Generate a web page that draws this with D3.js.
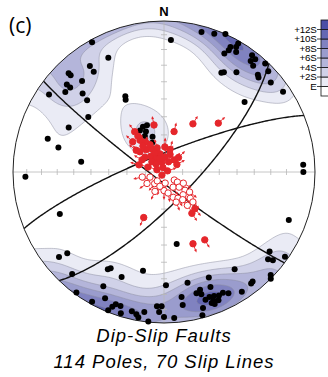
<!DOCTYPE html>
<html>
<head>
<meta charset="utf-8">
<script src="https://cdn.jsdelivr.net/npm/d3@7"></script>
<style>
  body { margin: 0; background: #fff; }
  svg { display: block; font-family: "Liberation Sans", Arial, sans-serif; }
</style>
</head>
<body>
<svg id="chart" width="328" height="377"></svg>
<script>
// Poles to faults (trend / plunge, degrees)
const poleTrend = [331,334,325,325,316,316,318,312,312,309,314,304,313,333,332,306,295,286,283,277,
  268,248,330,335,340,336,338,3,15,20,24,30,30,28,27,31,37,38,40,43,
  46,44,45,50,30,31,36,56,49,87,90,111,170,231,230,222,210,209,202,192,
  208,216,209,205,200,198,202,197,193,191,190,188,186,182,181,179,180,176,172,172,
  168,165,163,163,158,160,159,159,157,156,154,152,160,164,165,157,144,147,142,141,
  127,130,129,125,134,135,183,162,158,39,28,332,342,201];
const polePlunge = [2,17,15.5,20,10,12,20,14.5,17.5,17,26,9,31,43,45,38,31,21,29,44,
  9,26.5,64,63,63,66,73,13.5,4.5,3,0,2,5,9.5,13,8,3.5,7.5,9,2,
  4.5,11.5,12.5,8.5,25,24,19.5,5.5,30,8.5,8.5,12.5,50,11.5,17.5,10,26.5,28,26,33.5,
  15.5,1.5,2,8.5,7.5,7.5,1.5,2.5,6,4.5,2.5,7,0.5,8,12,26,4.5,3.5,17.5,12,
  26,18,19.5,16.5,19,13,9.5,7,8.5,11.5,12,10,8.5,7,2,25,21.5,6,7,7.5,
  13.5,11,8,2.5,2,0,12,12,12.5,4.5,7,68,70,5];

// Slip lines (trend / plunge), sense: 1 = filled symbol, 0 = open symbol
const slipTrend = [348,14,31,48,324,314,323,328,308,310,321,332,344,308,321,330,347.5,4,19,40,
  45,310,315,347.5,24,346,288,72,214,286,299,287,335,321,146,140,204,158,149,333,
  15,342,324,2,60,
  257,250,219,236,180,205,128,127,149,135,120,131,128,140,160,152,135,146,136,158,
  217,174,169,145,196];
const slipPlunge = [64,67.5,59.5,50,63,66.5,68.5,71,71,73,74.5,76,76.5,77,79,81.5,80,82,80,81.5,
  79,81.5,84,84.5,84,87.5,86,88,88,76,76.5,81,78.5,72,63,64,63,47.5,46.5,73.5,
  77.5,82.5,66,76.5,82,
  78,82,82,79,80,78.5,83,81,80.5,78.5,78,75,72.5,74,75.5,74,70,72,67.5,72.5,
  84,84,78.5,68,82];
const slipSense = [1,1,1,1,1,1,1,1,1,1,1,1,1,1,1,1,1,1,1,1,
  1,1,1,1,1,1,1,1,1,1,1,1,1,1,1,1,1,1,1,1,
  1,1,1,1,1,
  0,0,0,0,0,0,0,0,0,0,0,0,0,0,0,0,0,0,0,0,
  0,0,0,0,0];

// Mean fault planes (strike / dip, right-hand rule)
const planeStrike = [127, 248, 44];
const planeDip = [85, 80.5, 74.4];

// Contour levels (multiples of sigma above expected)
const contourSigma = [0, 2, 4, 6, 8, 10, 12];
const contourLabels = ["E", "+2S", "+4S", "+6S", "+8S", "+10S", "+12S"];
const bandColors = ["#eaebf5", "#d0d1e8", "#b4b5da", "#9a9ccd", "#8082c0", "#6568b3", "#4b4ea6"];

const cx = 164, cy = 172, R = 151;
const rad = Math.PI / 180;

const x = d3.scaleLinear().domain([-1, 1]).range([cx - R, cx + R]);
const y = d3.scaleLinear().domain([-1, 1]).range([cy + R, cy - R]);

// lower hemisphere equal-area (Schmidt) net
function eqArea(trend, plunge) {
  const r = Math.SQRT2 * Math.sin((90 - plunge) * rad / 2);
  return [r * Math.sin(trend * rad), r * Math.cos(trend * rad)];
}
function vec(trend, plunge) {
  return [Math.cos(plunge * rad) * Math.sin(trend * rad),
          Math.cos(plunge * rad) * Math.cos(trend * rad),
          Math.sin(plunge * rad)];
}

const svg = d3.select("#chart");
svg.append("defs").append("clipPath").attr("id", "net")
  .append("circle").attr("cx", cx).attr("cy", cy).attr("r", R);

// density of poles on the sphere (exponential Kamb), axial
const N = 160, k = 33;
const poleVecs = poleTrend.map((t, i) => vec(t, polePlunge[i]));
const values = new Float64Array(N * N);
for (let j = 0; j < N; j++) {
  for (let i = 0; i < N; i++) {
    let u = -1 + (i + 0.5) * 2 / N, v = 1 - (j + 0.5) * 2 / N;
    let r = Math.hypot(u, v);
    if (r > 1) { u /= r; v /= r; r = 1; }
    const th = 2 * Math.asin(r / Math.SQRT2);
    const s = Math.sin(th);
    const dir = r > 0 ? [u / r * s, v / r * s, Math.cos(th)] : [0, 0, 1];
    let sum = 0;
    for (const p of poleVecs) {
      const c = Math.abs(p[0] * dir[0] + p[1] * dir[1] + p[2] * dir[2]);
      sum += Math.exp(k * (c - 1));
    }
    values[j * N + i] = sum;
  }
}
const n = poleVecs.length;
const m1 = (1 - Math.exp(-k)) / k;
const m2 = (1 - Math.exp(-2 * k)) / (2 * k);
const E = n * m1, S = Math.sqrt(n * (m2 - m1 * m1));
const thresholds = contourSigma.map(m => E + m * S);

const contours = d3.contours().size([N, N]).thresholds(thresholds)(values);
const gridPath = d3.geoPath(d3.geoIdentity().scale(2 * R / N).translate([cx - R, cy - R]));

svg.append("g").attr("clip-path", "url(#net)")
  .selectAll("path").data(contours).join("path")
  .attr("d", gridPath)
  .attr("fill", (d, i) => bandColors[i])
  .attr("stroke", "#8d8ea0")
  .attr("stroke-width", 0.5);

// N-S and E-W axes with 10 degree ticks
const gAxes = svg.append("g").attr("stroke", "#b8b8b8").attr("stroke-width", 0.8);
gAxes.append("line").attr("x1", x(-1)).attr("x2", x(1)).attr("y1", y(0)).attr("y2", y(0));
gAxes.append("line").attr("x1", x(0)).attr("x2", x(0)).attr("y1", y(1)).attr("y2", y(-1));
const tickAngles = d3.range(10, 90, 10);
[0, 90, 180, 270].forEach(az => {
  tickAngles.forEach(a => {
    const [u, v] = eqArea(az, 90 - a);
    const horiz = az === 90 || az === 270;
    gAxes.append("line")
      .attr("x1", x(u) - (horiz ? 0 : 3)).attr("x2", x(u) + (horiz ? 0 : 3))
      .attr("y1", y(v) - (horiz ? 3 : 0)).attr("y2", y(v) + (horiz ? 3 : 0));
  });
});

// great circles
const gcLine = d3.line().x(d => x(d[0])).y(d => y(d[1]));
const gcData = planeStrike.map((st, i) => {
  const s = vec(st, 0), dv = vec(st + 90, planeDip[i]);
  return d3.range(0, 180.5, 1).map(rk => {
    const c = Math.cos(rk * rad), sn = Math.sin(rk * rad);
    const p = [c * s[0] + sn * dv[0], c * s[1] + sn * dv[1], c * s[2] + sn * dv[2]];
    const pl = Math.asin(Math.min(1, Math.max(-1, p[2]))) / rad;
    const tr = Math.atan2(p[0], p[1]) / rad;
    return eqArea(tr, pl);
  });
});
svg.append("g").selectAll("path").data(gcData).join("path")
  .attr("d", gcLine).attr("fill", "none").attr("stroke", "#111").attr("stroke-width", 1.4);

// primitive circle
svg.append("circle").attr("cx", cx).attr("cy", cy).attr("r", R)
  .attr("fill", "none").attr("stroke", "#222").attr("stroke-width", 1);

// poles
svg.append("g").selectAll("circle").data(poleTrend.map((t, i) => eqArea(t, polePlunge[i])))
  .join("circle")
  .attr("cx", d => x(d[0])).attr("cy", d => y(d[1])).attr("r", 3)
  .attr("fill", "#000");

// slip lines with arrows
const red = "#e5262b";
const slips = slipTrend.map((t, i) => ({ p: eqArea(t, slipPlunge[i]), t, sense: slipSense[i] }));
const gSlip = svg.append("g");
slips.forEach(d => {
  const px = x(d.p[0]), py = y(d.p[1]);
  const dx = Math.sin(d.t * rad), dy = -Math.cos(d.t * rad);
  const L = 7.5;
  const tx = px + dx * L, ty = py + dy * L;
  gSlip.append("line").attr("x1", px).attr("y1", py).attr("x2", tx).attr("y2", ty)
    .attr("stroke", red).attr("stroke-width", 0.9);
  const nx = -dy, ny = dx;
  gSlip.append("path")
    .attr("d", `M${tx + dx * 1.8},${ty + dy * 1.8}L${tx - dx * 1.3 + nx * 1.4},${ty - dy * 1.3 + ny * 1.4}L${tx - dx * 1.3 - nx * 1.4},${ty - dy * 1.3 - ny * 1.4}Z`)
    .attr("fill", red);
});
gSlip.selectAll("circle").data(slips).join("circle")
  .attr("cx", d => x(d.p[0])).attr("cy", d => y(d.p[1])).attr("r", 3.2)
  .attr("fill", d => d.sense ? red : "#fff")
  .attr("stroke", red).attr("stroke-width", 1);

// labels
svg.append("text").attr("x", cx).attr("y", 15.5).attr("text-anchor", "middle")
  .attr("font-size", 13).attr("font-weight", "bold").text("N");
svg.append("text").attr("x", 9).attr("y", 33).attr("font-family", "'Open Sans', sans-serif")
  .attr("font-size", 21).text("(c)");
svg.append("text").attr("x", cx).attr("y", 341.5).attr("text-anchor", "middle")
  .attr("font-size", 18.5).attr("font-style", "italic").attr("letter-spacing", 1)
  .text("Dip-Slip Faults");
svg.append("text").attr("x", cx).attr("y", 367.5).attr("text-anchor", "middle")
  .attr("font-size", 18.5).attr("font-style", "italic").attr("letter-spacing", 1)
  .text("114 Poles, 70 Slip Lines");

// legend
const legTop = 20, legH = 9.5, legX = 321;
const gLeg = svg.append("g");
const legColors = ["#fff"].concat(bandColors);
legColors.forEach((c, i) => {
  gLeg.append("rect").attr("x", legX).attr("y", legTop + (legColors.length - 1 - i) * legH)
    .attr("width", 14).attr("height", legH).attr("fill", c)
    .attr("stroke", "#111").attr("stroke-width", 0.8);
});
contourLabels.forEach((lab, i) => {
  const yy = legTop + (legColors.length - 1 - i) * legH;
  gLeg.append("line").attr("x1", legX - 4).attr("x2", legX).attr("y1", yy).attr("y2", yy)
    .attr("stroke", "#111").attr("stroke-width", 0.8);
  gLeg.append("text").attr("x", legX - 4.5).attr("y", yy + 3.4).attr("text-anchor", "end")
    .attr("font-size", 9.8).attr("letter-spacing", -0.2).text(lab);
});
</script>
</body>
</html>
